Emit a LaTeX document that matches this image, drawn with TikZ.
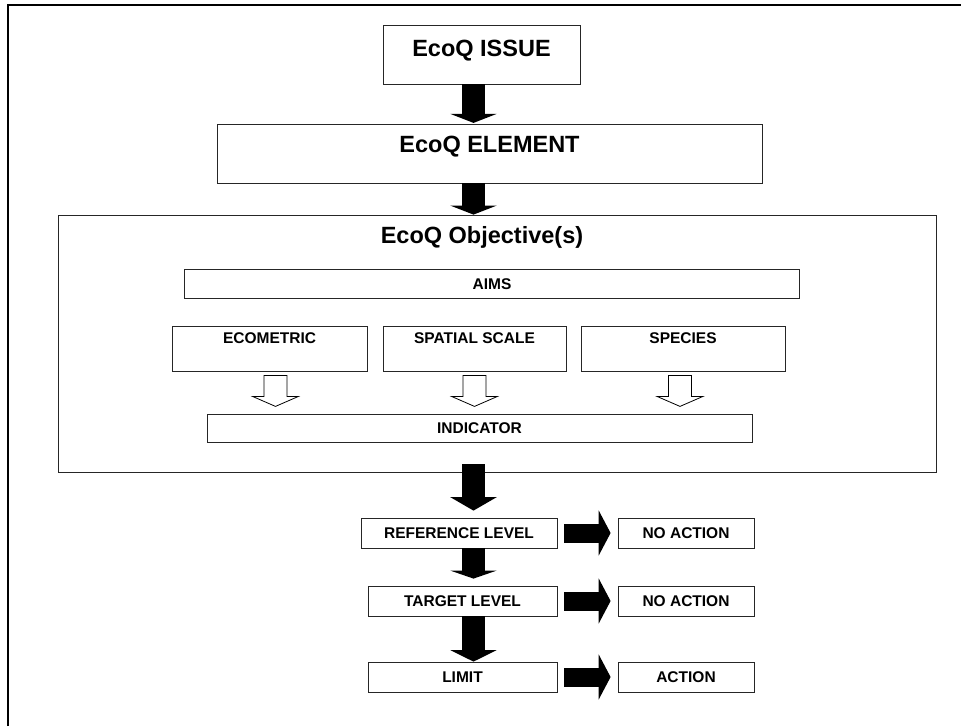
\documentclass[tikz,border=0pt]{standalone}
\usepackage{fontspec}
\setmainfont{Liberation Sans}
\usetikzlibrary{arrows.meta,calc}
\tikzset{
  ecoq frame/.style={line width=2pt},
  ecoq box/.style={draw=black!85,line width=0.8pt,fill=white,inner sep=0pt,
    font=\bfseries\fontsize{15.5}{18}\selectfont,text height=11.1pt,text depth=0pt},
  ecoq big/.style={ecoq box,font=\bfseries\fontsize{23.5}{27}\selectfont,text height=16.8pt},
  ecoq title/.style={font=\bfseries\fontsize{23.5}{27}\selectfont,anchor=base,inner sep=0pt},
  ecoq flow/.style={line width=23pt,-{Triangle[length=#1,width=46pt]}},
  ecoq flow/.default=9pt,
  ecoq side/.style={line width=19pt,-{Triangle[length=12pt,width=45pt]},shorten <=7pt,shorten >=7pt},
  ecoq hollow/.pic={
    \draw[line width=0.8pt,fill=white] (-11.5,0) -- (-11.5,21) -- (-23,21) -- (0,31)
      -- (23,21) -- (11.5,21) -- (11.5,0) -- cycle;
  }
}

\begin{document}
\begin{tikzpicture}[x=1pt,y=-1pt]
  \useasboundingbox (0,0) rectangle (961,726);
  \draw[ecoq frame] (7.5,726) -- (7.5,4.5) -- (961,4.5);

  % top of the chain
  \node[ecoq big,minimum width=197pt,minimum height=59pt,text depth=13pt] (issue) at (481.5,54.5) {EcoQ ISSUE};
  \node[ecoq big,minimum width=545pt,minimum height=59pt,text depth=18pt] (element) at (489.5,153.5) {EcoQ ELEMENT};

  % objective block
  \node[ecoq box,minimum width=878pt,minimum height=257pt] (objective) at (497,343.5) {};
  \node[ecoq title] (objtitle) at (482,243) {EcoQ Objective(s)};
  \node[ecoq box,minimum width=615pt,minimum height=29pt] (aims) at (492,284) {AIMS};
  \node[ecoq box,minimum width=195pt,minimum height=45pt,text depth=22pt] (ecometric) at (269.5,348.5) {ECOMETRIC};
  \node[ecoq box,minimum width=183pt,minimum height=45pt,text depth=22pt] (spatial) at (474.5,348.5) {SPATIAL SCALE};
  \node[ecoq box,minimum width=204pt,minimum height=45pt,text depth=22pt] (species) at (683,348.5) {SPECIES};
  \node[ecoq box,minimum width=545pt,minimum height=28pt] (indicator) at (479.5,428) {INDICATOR};
  \pic at ($(ecometric.south)+(6,4)$) {ecoq hollow};
  \pic at ($(spatial.south)+(0,4)$) {ecoq hollow};
  \pic at ($(species.south)+(-3,4)$) {ecoq hollow};

  % levels
  \node[ecoq box,minimum width=196pt,minimum height=30pt] (reference) at (459,533) {REFERENCE LEVEL};
  \node[ecoq box,minimum width=189pt,minimum height=30pt] (target) at (462.5,601) {TARGET LEVEL};
  \node[ecoq box,minimum width=189pt,minimum height=30pt] (limit) at (462.5,677) {LIMIT};
  \node[ecoq box,minimum width=136pt,minimum height=30pt] (noaction1) at (686,533) {NO ACTION};
  \node[ecoq box,minimum width=136pt,minimum height=30pt] (noaction2) at (686,601) {NO ACTION};
  \node[ecoq box,minimum width=136pt,minimum height=30pt] (action) at (686,677) {ACTION};

  % block arrows
  \coordinate (spine) at (473.5,0);
  \draw[ecoq flow,shorten >=0.7pt] (issue.south -| spine) -- (element.north -| spine);
  \draw[ecoq flow] (element.south -| spine) -- (objective.north -| spine);
  \draw[ecoq flow=13.5pt,shorten <=-8pt,shorten >=7pt] (objective.south -| spine) -- (reference.north -| spine);
  \draw[ecoq flow=8pt,shorten >=7pt] (reference.south -| spine) -- (target.north -| spine);
  \draw[ecoq flow=11.5pt] (target.south -| spine) -- (limit.north -| spine);
  \draw[ecoq side] (reference.east) -- (noaction1.west);
  \draw[ecoq side] (target.east) -- (noaction2.west);
  \draw[ecoq side] (limit.east) -- (action.west);
\end{tikzpicture}
\end{document}
